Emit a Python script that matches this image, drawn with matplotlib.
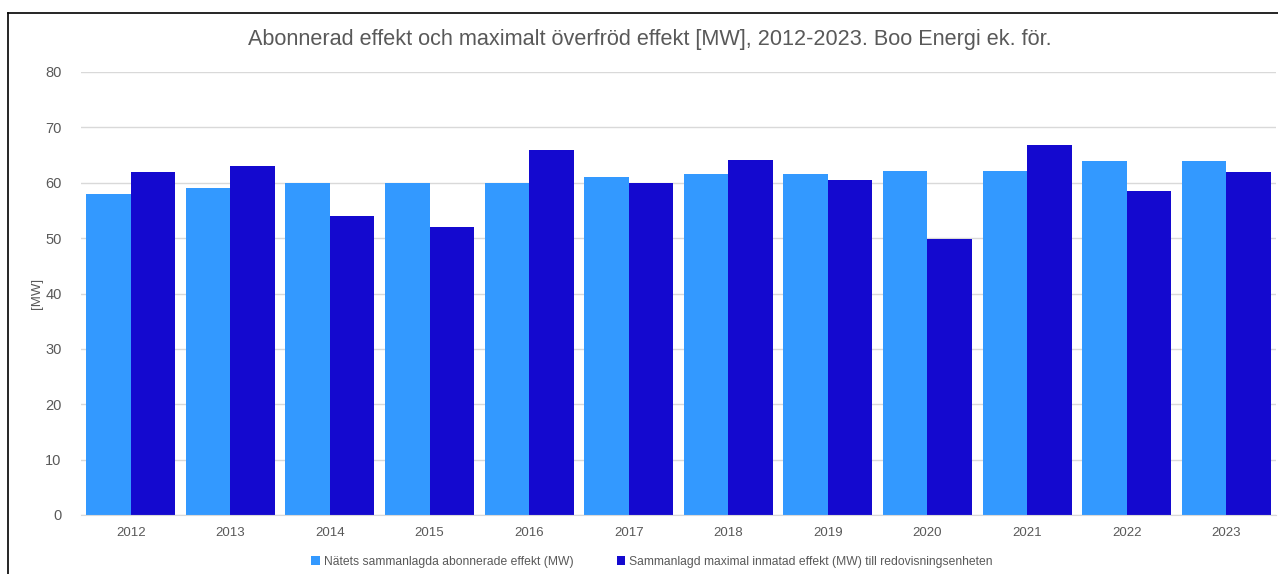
"""Abonnerad effekt och maximalt överförd effekt, Boo Energi 2012-2023."""
import numpy as np
import matplotlib

matplotlib.use("Agg")
import matplotlib.pyplot as plt
from matplotlib.lines import Line2D

YEARS = ["2012", "2013", "2014", "2015", "2016", "2017",
         "2018", "2019", "2020", "2021", "2022", "2023"]
ABONNERAD = [58, 59, 60, 60, 60, 61, 61.5, 61.5, 62.1, 62.1, 64, 64]
MAX_INMATAD = [62, 63, 54, 52, 66, 60, 64.1, 60.5, 49.9, 66.8, 58.6, 62]
LABELS = ["Nätets sammanlagda abonnerade effekt (MW)",
          "Sammanlagd maximal inmatad effekt (MW) till redovisningsenheten"]
TITLE = "Abonnerad effekt och maximalt överfröd effekt [MW], 2012-2023. Boo Energi ek. för."

LIGHT = "#3399FF"
DARK = "#1409CF"
GREY = "#595959"

plt.rcParams["font.family"] = ["Liberation Sans", "DejaVu Sans"]

W, H = 1278, 574
fig = plt.figure(figsize=(W / 100, H / 100), dpi=100)
ax = fig.add_axes([81 / W, 1 - 515 / H, (1276 - 81) / W, (515 - 72) / H])

x = np.arange(len(YEARS))
bw = 0.447
ax.bar(x - bw / 2, ABONNERAD, bw, color=LIGHT, label=LABELS[0], zorder=2)
ax.bar(x + bw / 2, MAX_INMATAD, bw, color=DARK, label=LABELS[1], zorder=2)

ax.set_xlim(-0.5, len(YEARS) - 0.5)
ax.set_ylim(0, 80)
ax.set_yticks(range(0, 81, 10))
ax.set_xticks(x, YEARS)
ax.grid(axis="y", color="#D9D9D9", lw=1, zorder=0)
for s in ["top", "right", "left"]:
    ax.spines[s].set_visible(False)
ax.spines["bottom"].set_color("#D9D9D9")
ax.tick_params(axis="both", length=0, colors=GREY)
ax.tick_params(axis="y", pad=14, labelsize=10.5)
ax.tick_params(axis="x", pad=9, labelsize=9.5)

fig.text(36.5 / W, 1 - 293 / H, "[MW]", rotation=90, ha="center", va="center",
         color=GREY, fontsize=9.5)
fig.text(650 / W, 1 - 40 / H, TITLE, ha="center", va="center",
         color=GREY, fontsize=15.6)

fig.legend(loc="center", bbox_to_anchor=(652 / W, 1 - 562 / H), ncol=2,
           frameon=False, fontsize=8.75, labelcolor=GREY, handlelength=0.7,
           handleheight=0.7, handletextpad=0.3, columnspacing=3.6)

# chart frame, cut off at right and bottom like the screenshot
fig.add_artist(Line2D([7.5 / W, 7.5 / W], [0, 1 - 13 / H], color="black", lw=1.2))
fig.add_artist(Line2D([7.5 / W, 1], [1 - 13 / H, 1 - 13 / H], color="black", lw=1.2))

fig.savefig("out.png", dpi=100)
